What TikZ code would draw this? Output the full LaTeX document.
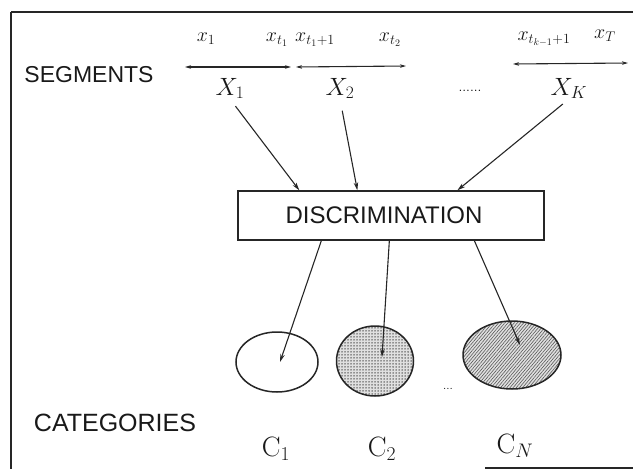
\RequirePackage{fix-cm}
\documentclass[tikz,border=0pt]{standalone}
\usepackage{fontspec}
\newfontfamily\hv{Liberation Sans}
\usetikzlibrary{arrows.meta,calc,patterns.meta,shapes.geometric}
\begin{document}
\begin{tikzpicture}[x=1pt,y=-1pt,
  frame/.style={line width=1.3pt,black!85},
  arr/.style={line width=1.1pt,black!85,-{Stealth[length=8pt,width=4.5pt]}},
  segarr/.style={line width=1.1pt,black!85,{Stealth[length=6pt,width=3.5pt]}-{Stealth[length=6pt,width=3.5pt]}},
  sans/.style={font=\hv\fontsize{23}{26}\selectfont,inner sep=0pt,text=black!90},
  small/.style={font=\fontsize{20}{23}\selectfont,inner sep=0pt,anchor=base,text=black!90},
  big/.style={font=\fontsize{25}{28}\selectfont,inner sep=0pt,anchor=base,text=black!90},
  cat/.style={font=\fontsize{28}{30}\selectfont,inner sep=0pt,anchor=base,text=black!90},
  cls/.style={line width=1.5pt,black!85}]
\useasboundingbox (0,0) rectangle (633,469);
% frame
\draw[frame] (11,12) -- (633,12);
\draw[frame] (11,12) -- (11,469);
\draw[frame] (485,468) -- (633,468);
% labels
\node[sans] (seg) at (89,75) {SEGMENTS};
\node[sans,font=\hv\fontsize{25}{28}\selectfont] (cats) at (115,423) {CATEGORIES};
% time indices
\node[small] (lx1) at (206,41) {$x_1$};
\node[small] (lxt1) at (277,41) {$x_{t_1}$};
\node[small] (lxt1p) at (315,41) {$x_{t_1+1}$};
\node[small] (lxt2) at (390,41) {$x_{t_2}$};
\node[small] (lxtk) at (544,40) {$x_{t_{k-1}+1}$};
\node[small] (lxT) at (605,38) {$x_T$};
% segment arrows
\coordinate (s1a) at (185,67); \coordinate (s1b) at (291,67);
\coordinate (s2a) at (296,67); \coordinate (s2b) at (406,66);
\coordinate (s3a) at (513,64); \coordinate (s3b) at (628,63);
\draw[segarr] (s1a) -- (s1b);
\draw[segarr] (s2a) -- (s2b);
\draw[segarr] (s3a) -- (s3b);
% segment names
\node[big] (X1) at (230,95) {$X_1$};
\node[big] (X2) at (340,95) {$X_2$};
\node[big] (XK) at (569,95) {$X_K$};
\node[font=\fontsize{14}{16}\selectfont,inner sep=0pt,anchor=base] (sdots) at (470,91) {......};
% discrimination box
\node[draw,line width=1.3pt,black!85,minimum width=306pt,minimum height=49pt,inner sep=0pt,
  font=\hv\fontsize{24}{27}\selectfont,text=black!90] (box) at (391,215.5) {DISCRIMINATION\hspace*{14pt}};
% arrows into box
\draw[arr,shorten <=9pt] (X1.south) -- ($(box.north west)+(62,0)$);
\draw[arr,shorten <=12pt] (X2.south) -- ($(box.north west)+(120,0)$);
\draw[arr,shorten <=8pt] (XK.south) -- ($(box.north west)+(220,0)$);
% categories
\node[cls,draw,ellipse,minimum width=82pt,minimum height=60pt,inner sep=0pt] (e1) at (277,362) {};
\node[cls,draw,ellipse,minimum width=77pt,minimum height=70pt,inner sep=0pt,
  preaction={fill=black!12},pattern={Dots[distance=3pt,radius=0.75pt]},pattern color=black!75] (e2) at (375,361) {};
\node[cls,draw,ellipse,minimum width=98pt,minimum height=68pt,inner sep=0pt,
  preaction={fill=black!12},pattern={Lines[angle=50,distance=2.4pt,line width=0.6pt]},pattern color=black!65] (eN) at (512,355) {};
\node[font=\fontsize{12}{14}\selectfont,inner sep=0pt,anchor=base] (cdots) at (448,389) {...};
% arrows out of box
\draw[arr] ($(box.south west)+(84,0)$) -- ($(e1.center)+(3,0)$);
\draw[arr] ($(box.south west)+(152,0)$) -- ($(e2.center)+(7,-4)$);
\draw[arr] ($(box.south west)+(237,0)$) -- ($(eN.center)+(8,-10)$);
% category names
\node[cat] (C1) at (276,456) {$\mathrm{C}_1$};
\node[cat] (C2) at (382,456) {$\mathrm{C}_2$};
\node[cat] (CN) at (515,453) {$\mathrm{C}_N$};
\end{tikzpicture}
\end{document}
